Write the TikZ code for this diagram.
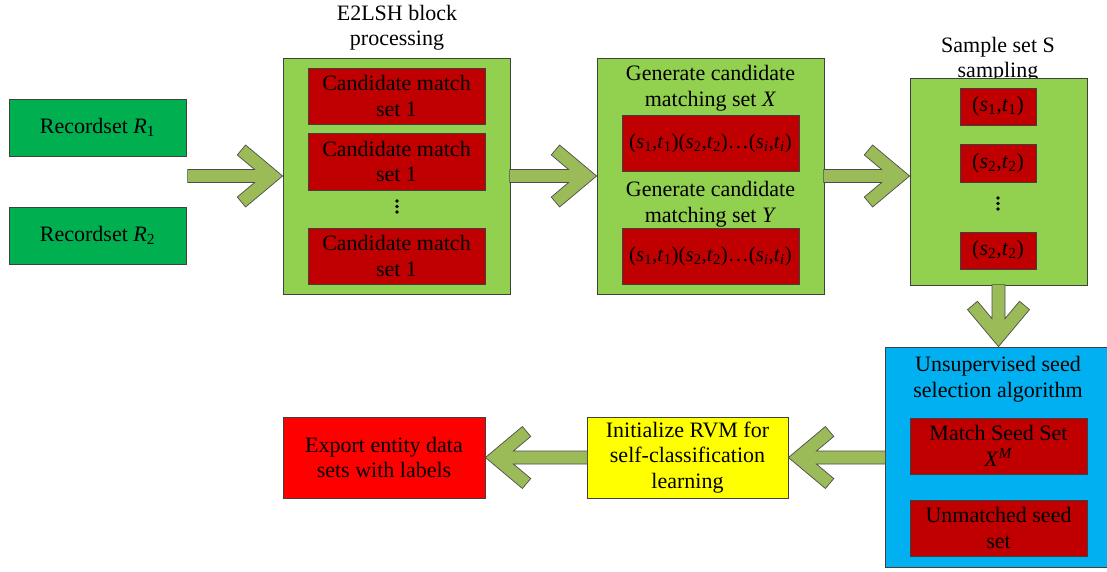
\documentclass[tikz,border=0pt]{standalone}
\usepackage{fontspec}
\setmainfont{Liberation Serif}
\definecolor{recgreen}{HTML}{00B050}
\definecolor{lightgreen}{HTML}{92D050}
\definecolor{darkred}{HTML}{C00000}
\definecolor{brightred}{HTML}{FF0000}
\definecolor{skyblue}{HTML}{00B0F0}
\definecolor{yel}{HTML}{FFFF00}
\definecolor{arrowgreen}{HTML}{9BBB59}
\newcommand{\pairseq}{(\textit{s}\textsubscript{1},\textit{t}\textsubscript{1})(\textit{s}\textsubscript{2},\textit{t}\textsubscript{2})…(\textit{s}\textsubscript{\textit{i}},\textit{t}\textsubscript{\textit{i}})}
\tikzset{
  arw/.style={fill=arrowgreen, draw=black!70, line width=0.7pt, line join=miter},
  pics/chev/.style={code={\path[arw] (0,0) -- (-37,31) -- (-45.35,21.04) -- (-28,6.5) -- (-#1,6.5) -- (-#1,-6.5) -- (-28,-6.5) -- (-45.35,-21.04) -- (-37,-31) -- cycle;}},
  pics/vdotsmark/.style={code={\fill[black] (0,-5.5) circle (1.9) (0,0) circle (1.9) (0,5.5) circle (1.9);}},
  box/.style={draw=black!75, line width=0.8pt},
  redbox/.style={box, fill=darkred, minimum width=177pt, minimum height=56pt},
  smallred/.style={box, fill=darkred, minimum width=76pt, minimum height=37pt},
  container/.style={box, fill=lightgreen},
  label/.style={},
  seqtext/.style={font=\fontsize{21}{25.5}\selectfont}
}
\begin{document}
\begin{tikzpicture}[x=1pt,y=-1pt,
  every node/.style={font=\fontsize{22}{25.5}\selectfont, inner sep=0pt, align=center}]
\useasboundingbox (0,0) rectangle (1107,572);

% Recordsets
\node[box, fill=recgreen, minimum width=177pt, minimum height=57pt] (r1) at (97.5,127.5) {Recordset \textit{R}\textsubscript{1}};
\node[box, fill=recgreen, minimum width=177pt, minimum height=57pt] (r2) at (97.5,235.5) {Recordset \textit{R}\textsubscript{2}};

% E2LSH
\node[label] (t1) at (397,27.5) {E2LSH block\\processing};
\node[container, minimum width=227pt, minimum height=236pt] (e2) at (396.5,176) {};
\node[redbox] (c1) at (396.5,96) {Candidate match\\set 1};
\node[redbox, minimum height=57pt] (c2) at (396.5,161.5) {Candidate match\\set 1};
\pic at (397,206.5) {vdotsmark};
\node[redbox] (c3) at (396.5,256) {Candidate match\\set 1};

% Generate
\node[container, minimum width=227pt, minimum height=236pt] (gen) at (710.5,176) {};
\node[label] (gx) at (710.5,88) {Generate candidate\\matching set \textit{X}};
\node[redbox, seqtext] (bx) at (710.5,143) {\pairseq};
\node[label] (gy) at (710.5,204) {Generate candidate\\matching set \textit{Y}};
\node[redbox, seqtext] (by) at (710.5,256) {\pairseq};

% Sample
\node[label] (st) at (998,59.5) {Sample set S\\sampling};
\node[container, minimum width=177pt, minimum height=207pt] (samp) at (998.5,181.5) {};
\node[smallred] (s1) at (998,106.5) {(\textit{s}\textsubscript{1},\textit{t}\textsubscript{1})};
\node[smallred, minimum height=38pt] (s2) at (998,163) {(\textit{s}\textsubscript{2},\textit{t}\textsubscript{2})};
\pic at (998,203.5) {vdotsmark};
\node[smallred] (s3) at (998,250.5) {(\textit{s}\textsubscript{2},\textit{t}\textsubscript{2})};

% Unsupervised
\node[box, fill=skyblue, minimum width=223pt, minimum height=220pt] (blue) at (996.5,457) {};
\node[label] (bt) at (998,379) {Unsupervised seed\\selection algorithm};
\node[redbox] (ms) at (998.5,446) {Match Seed Set\\\textit{X}\textsuperscript{\textit{M}}};
\node[redbox] (um) at (998.5,528) {Unmatched seed\\set};

% Bottom row
\node[box, fill=yel, minimum width=201pt, minimum height=81pt] (rvm) at (687.5,457.5) {Initialize RVM for\\self-classification\\learning};
\node[box, fill=brightred, minimum width=202pt, minimum height=81pt] (exp) at (384,457.5) {Export entity data\\sets with labels};

% Block arrows
\pic at (e2.west) {chev=95};
\pic at (gen.west) {chev=87};
\pic at (samp.west |- gen.west) {chev=86};
\pic[rotate=-90] at (samp.south |- blue.north) {chev=62};
\pic[rotate=180] at (rvm.east) {chev=97};
\pic[rotate=180] at (exp.east) {chev=102};
\end{tikzpicture}
\end{document}
